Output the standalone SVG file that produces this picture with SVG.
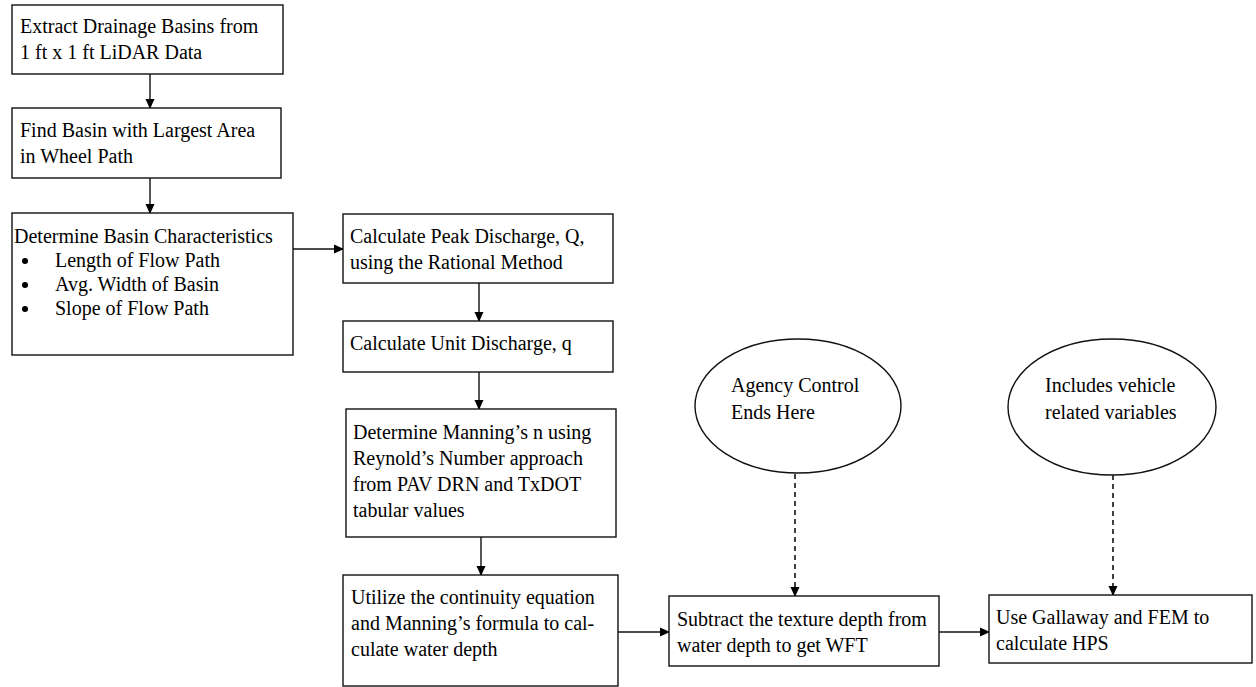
<svg xmlns="http://www.w3.org/2000/svg" width="1256" height="687" viewBox="0 0 1256 687">
<defs>
<style>
.box{fill:#fff;stroke:#111;stroke-width:1.4}
.t{font-family:"Liberation Serif","Times New Roman",serif;font-size:20px;fill:#000}
.c{stroke:#111;stroke-width:1.4;fill:none}
.d{stroke:#111;stroke-width:1.6;fill:none;stroke-dasharray:5,4}
</style>
<marker id="ah" markerWidth="10" markerHeight="10" refX="9" refY="5" orient="auto" markerUnits="userSpaceOnUse">
<path d="M0,0.5 L10,5 L0,9.5 Z" fill="#000"/>
</marker>
</defs>
<rect width="1256" height="687" fill="#fff"/>
<g id="connectors">
<line class="c" x1="150" y1="74" x2="150" y2="108" marker-end="url(#ah)"/>
<line class="c" x1="150" y1="178" x2="150" y2="213" marker-end="url(#ah)"/>
<line class="c" x1="293" y1="249" x2="343" y2="249" marker-end="url(#ah)"/>
<line class="c" x1="479" y1="283" x2="479" y2="321" marker-end="url(#ah)"/>
<line class="c" x1="479" y1="372" x2="479" y2="409" marker-end="url(#ah)"/>
<line class="c" x1="481" y1="537" x2="481" y2="575" marker-end="url(#ah)"/>
<line class="c" x1="618" y1="632" x2="669" y2="632" marker-end="url(#ah)"/>
<line class="d" x1="795" y1="474" x2="795" y2="596" marker-end="url(#ah)"/>
<line class="c" x1="939" y1="632" x2="989" y2="632" marker-end="url(#ah)"/>
<line class="d" x1="1113" y1="475" x2="1113" y2="595" marker-end="url(#ah)"/>
</g>
<g id="n1">
<rect class="box" x="12" y="5" width="271" height="69"/>
<text class="t" x="20" y="33">Extract Drainage Basins from</text>
<text class="t" x="20" y="59">1 ft x 1 ft LiDAR Data</text>
</g>
<g id="n2">
<rect class="box" x="12" y="108" width="269" height="70"/>
<text class="t" x="20" y="137">Find Basin with Largest Area</text>
<text class="t" x="20" y="163">in Wheel Path</text>
</g>
<g id="n3">
<rect class="box" x="12" y="213" width="281" height="142"/>
<text class="t" x="14" y="243">Determine Basin Characteristics</text>
<circle cx="25" cy="261" r="3" fill="#000"/>
<text class="t" x="55" y="267">Length of Flow Path</text>
<circle cx="25" cy="285" r="3" fill="#000"/>
<text class="t" x="55" y="291">Avg. Width of Basin</text>
<circle cx="25" cy="309" r="3" fill="#000"/>
<text class="t" x="55" y="315">Slope of Flow Path</text>
</g>
<g id="n4">
<rect class="box" x="343" y="214" width="270" height="69"/>
<text class="t" x="350" y="243">Calculate Peak Discharge, Q,</text>
<text class="t" x="350" y="269">using the Rational Method</text>
</g>
<g id="n5">
<rect class="box" x="343" y="321" width="270" height="51"/>
<text class="t" x="350" y="350">Calculate Unit Discharge, q</text>
</g>
<g id="n6">
<rect class="box" x="346" y="409" width="270" height="128"/>
<text class="t" x="353" y="439">Determine Manning’s n using</text>
<text class="t" x="353" y="465">Reynold’s Number approach</text>
<text class="t" x="353" y="491">from PAV DRN and TxDOT</text>
<text class="t" x="353" y="517">tabular values</text>
</g>
<g id="n7">
<rect class="box" x="343" y="575" width="275" height="111"/>
<text class="t" x="351" y="604">Utilize the continuity equation</text>
<text class="t" x="351" y="630">and Manning’s formula to cal-</text>
<text class="t" x="351" y="656">culate water depth</text>
</g>
<g id="n8">
<rect class="box" x="669" y="596" width="270" height="70"/>
<text class="t" x="677" y="626">Subtract the texture depth from</text>
<text class="t" x="677" y="652">water depth to get WFT</text>
</g>
<g id="n9">
<rect class="box" x="989" y="595" width="263" height="68"/>
<text class="t" x="996" y="624">Use Gallaway and FEM to</text>
<text class="t" x="996" y="650">calculate HPS</text>
</g>
<g id="e1">
<ellipse class="box" cx="798" cy="406" rx="103" ry="67"/>
<text class="t" x="731" y="392">Agency Control</text>
<text class="t" x="731" y="419">Ends Here</text>
</g>
<g id="e2">
<ellipse class="box" cx="1112" cy="407" rx="104" ry="68"/>
<text class="t" x="1045" y="392">Includes vehicle</text>
<text class="t" x="1045" y="419">related variables</text>
</g>
</svg>
